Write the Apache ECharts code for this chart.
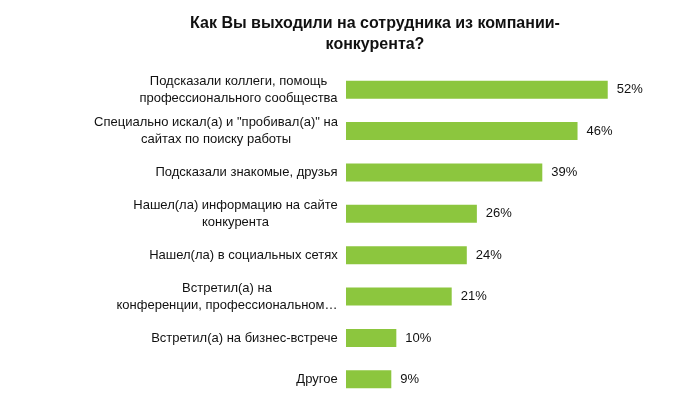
<!DOCTYPE html>
<html>
<head>
<meta charset="utf-8">
<script src="https://cdn.jsdelivr.net/npm/echarts@6/dist/echarts.min.js"></script>
<style>html,body{margin:0;padding:0;background:#fff}</style>
</head>
<body>
<div id="main" style="width:700px;height:400px"></div>
<script>
var categories = [
  'Подсказали коллеги, помощь\nпрофессионального сообщества',
  'Специально искал(а) и "пробивал(а)" на\nсайтах по поиску работы',
  'Подсказали знакомые, друзья',
  'Нашел(ла) информацию на сайте\nконкурента',
  'Нашел(ла) в социальных сетях',
  'Встретил(а) на\nконференции, профессиональном…',
  'Встретил(а) на бизнес-встрече',
  'Другое'
];
var values = [52, 46, 39, 26, 24, 21, 10, 9];

var labelFont = '13px "Liberation Sans"';
var ctx = document.createElement('canvas').getContext('2d');
ctx.font = labelFont;

// каждая подпись центрируется внутри своего блока
var rich = {};
var catsRev = categories.slice().reverse();
catsRev.forEach(function (c, i) {
  var w = 0;
  c.split('\n').forEach(function (l) { w = Math.max(w, ctx.measureText(l).width); });
  rich['r' + i] = { width: Math.ceil(w), align: 'center', fontFamily: 'Liberation Sans', fontSize: 13, color: '#111', lineHeight: 17 };
});

var myChart = echarts.init(document.getElementById('main'));

var option = {
  animation: false,
  title: {
    text: 'Как Вы выходили на сотрудника из компании-\nконкурента?',
    left: 370,
    top: 8,
    textAlign: 'center',
    textStyle: { fontFamily: 'Liberation Sans', fontSize: 16, fontWeight: 'bold', color: '#111', lineHeight: 21 }
  },
  grid: { left: 346, right: 52, top: 69, height: 331 },
  xAxis: { type: 'value', min: 0, max: 60, show: false },
  yAxis: {
    type: 'category',
    data: catsRev,
    axisLine: { show: false },
    axisTick: { show: false },
    axisLabel: {
      fontFamily: 'Liberation Sans', fontSize: 13, color: '#111', lineHeight: 17, margin: 8,
      formatter: function (v, i) {
        return v.split('\n').map(function (l) { return '{r' + i + '|' + l + '}'; }).join('\n');
      },
      rich: rich
    }
  },
  series: [{
    type: 'bar',
    data: values.slice().reverse(),
    barWidth: 18,
    itemStyle: { color: '#8cc63e' },
    label: {
      show: true, position: 'right', distance: 9,
      formatter: '{c}%',
      fontFamily: 'Liberation Sans', fontSize: 13, color: '#111'
    }
  }]
};

myChart.setOption(option);
</script>
</body>
</html>
